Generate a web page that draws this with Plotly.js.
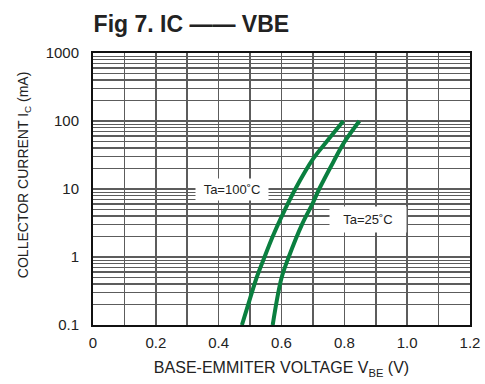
<!DOCTYPE html>
<html>
<head>
<meta charset="utf-8">
<script src="https://cdn.plot.ly/plotly-3.0.1.min.js"></script>
<style>html,body{margin:0;padding:0;background:#fff;}#chart{width:485px;height:384px;}</style>
</head>
<body>
<div id="chart"></div>
<script>
// Collector current Ic (mA) vs base-emitter voltage VBE (V)
const ic100 = [0.1, 0.247, 0.5, 1, 2, 3.89, 10, 27.9, 50, 100];
const vbe100 = [0.474, 0.500, 0.521, 0.546, 0.572, 0.600, 0.644, 0.701, 0.744, 0.797];
const ic25 = [0.1, 0.49, 1, 3, 6.27, 10, 25, 48.8, 100];
const vbe25 = [0.572, 0.600, 0.623, 0.665, 0.700, 0.720, 0.765, 0.800, 0.848];

const xTickVals = [0, 0.2, 0.4, 0.6, 0.8, 1.0, 1.2];
const xTickText = ["0", "0.2", "0.4", "0.6", "0.8", "1.0", "1.2"];
const xMinorVals = [0.1, 0.3, 0.5, 0.7, 0.9, 1.1];
const yTickVals = [0.1, 1, 10, 100, 1000];
const yTickText = ["0.1", "1", "10", "100", "1000"];
const yMinorMultipliers = [2, 3, 4, 5, 6, 7, 8, 9];

const yMinorVals = [];
yTickVals.slice(0, -1).forEach(d => yMinorMultipliers.forEach(m => yMinorVals.push(+(d * m).toPrecision(3))));

const green = "#0a7f3f";
const traces = [
  {x: vbe100, y: ic100, mode: "lines", line: {color: green, width: 4, shape: "spline", smoothing: 1}, hoverinfo: "skip"},
  {x: vbe25, y: ic25, mode: "lines", line: {color: green, width: 4, shape: "spline", smoothing: 1}, hoverinfo: "skip"}
];

const FAM = "Liberation Sans, Arial, sans-serif";
const TXT = "#222";

const layout = {
  width: 485, height: 384,
  margin: {l: 93, r: 15, t: 53, b: 59},
  paper_bgcolor: "#fff", plot_bgcolor: "#fff",
  showlegend: false,
  font: {family: FAM, color: TXT},
  title: {
    text: "<b>Fig 7. IC —— VBE</b>",
    font: {family: FAM, size: 23, color: TXT},
    xref: "container", yref: "container",
    x: 0.193, xanchor: "left", y: 0.938, yanchor: "middle"
  },
  xaxis: {
    range: [0, 1.2], tickmode: "array", tickvals: xTickVals, ticktext: xTickText,
    showgrid: true, gridcolor: "#5c5c5c", gridwidth: 1.6,
    minor: {tickmode: "array", tickvals: xMinorVals, showgrid: true, gridcolor: "#5c5c5c", gridwidth: 1.6, ticks: ""},
    zeroline: false, showline: true, linecolor: "#111", linewidth: 2, mirror: true,
    ticks: "", ticklabelstandoff: 3,
    tickfont: {size: 15, color: TXT},
    title: {text: "BASE-EMMITER VOLTAGE V<sub>BE</sub> (V)", font: {size: 16, color: TXT}, standoff: 12}
  },
  yaxis: {
    type: "log", range: [-1, 3], tickmode: "array", tickvals: yTickVals, ticktext: yTickText,
    showgrid: true, gridcolor: "#5c5c5c", gridwidth: 1.3,
    minor: {tickmode: "array", tickvals: yMinorVals, showgrid: true, gridcolor: "#5c5c5c", gridwidth: 1.2, ticks: ""},
    zeroline: false, showline: true, linecolor: "#111", linewidth: 2, mirror: true,
    ticks: "", ticklabelstandoff: 9,
    tickfont: {size: 15, color: TXT}
  },
  annotations: [
    {xref: "paper", yref: "paper", x: -0.183, y: 0.551, textangle: -90,
     text: "COLLECTOR CURRENT I<sub>C</sub> (mA)", showarrow: false,
     font: {size: 14, color: TXT}, xanchor: "center", yanchor: "middle"},
    {x: 0.443, y: 1, xref: "x", yref: "y", text: "Ta=100˚C", showarrow: false,
     font: {size: 13, color: TXT}, bgcolor: "#fff", borderpad: 3, width: 66},
    {x: 0.874, y: 0.546, xref: "x", yref: "y", text: "Ta=25˚C", showarrow: false,
     font: {size: 13, color: TXT}, bgcolor: "#fff", borderpad: 5, width: 66}
  ]
};

Plotly.newPlot("chart", traces, layout, {staticPlot: true, displayModeBar: false});
</script>
</body>
</html>
